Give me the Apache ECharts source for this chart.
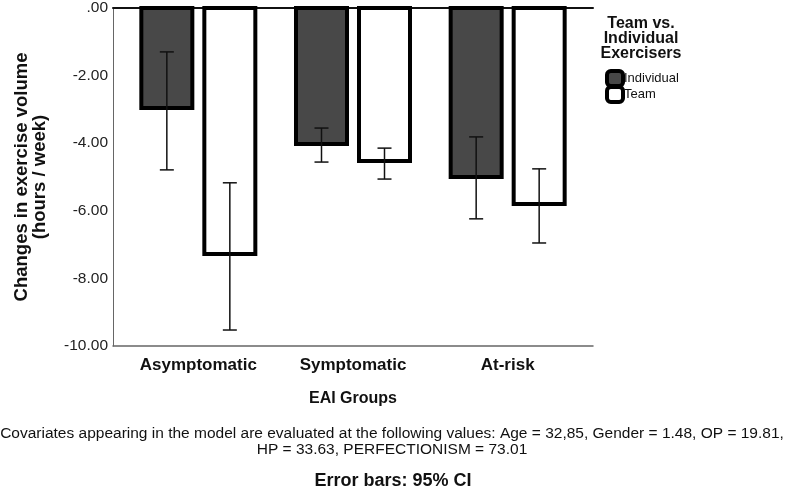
<!DOCTYPE html>
<html>
<head>
<meta charset="utf-8">
<script src="https://cdn.jsdelivr.net/npm/echarts@6/dist/echarts.min.js"></script>
<style>
  html, body { margin: 0; padding: 0; background: #fff; }
  #chart { width: 787px; height: 492px; }
</style>
</head>
<body>
<div id="chart"></div>
<script>
// 数据
var categories = ["Asymptomatic", "Symptomatic", "At-risk"];
var individualMeans = [-3.06, -4.12, -5.09];
var teamMeans = [-7.35, -4.62, -5.88];
var individualLow = [-4.82, -4.59, -6.26];
var individualHigh = [-1.35, -3.59, -3.85];
var teamLow = [-9.53, -5.09, -6.97];
var teamHigh = [-5.2, -4.18, -4.79];
var yTicks = [0, -2, -4, -6, -8, -10];

var FONT = "Liberation Sans, Arial, sans-serif";
var BAR_W = 55;
var BAR_GAP = 8; // 两根柱子之间的间距

// 误差线
function errorSeries(name, low, high, dir) {
  var data = categories.map(function (c, i) {
    return [i, low[i], high[i]];
  });
  return {
    name: name + " CI",
    type: "custom",
    xAxisIndex: 0,
    yAxisIndex: 0,
    z: 10,
    data: data,
    encode: { x: 0, y: [1, 2] },
    renderItem: function (params, api) {
      var lo = api.coord([api.value(0), api.value(1)]);
      var hi = api.coord([api.value(0), api.value(2)]);
      var x = lo[0] + dir * (BAR_W + BAR_GAP) / 2;
      var cap = 7;
      var style = { stroke: "#111", lineWidth: 1.5 };
      return {
        type: "group",
        children: [
          { type: "line", shape: { x1: x, y1: lo[1], x2: x, y2: hi[1] }, style: style },
          { type: "line", shape: { x1: x - cap, y1: lo[1], x2: x + cap, y2: lo[1] }, style: style },
          { type: "line", shape: { x1: x - cap, y1: hi[1], x2: x + cap, y2: hi[1] }, style: style }
        ]
      };
    }
  };
}

var chart = echarts.init(document.getElementById("chart"));
var option = {
  animation: false,
  textStyle: { fontFamily: FONT },
  // grid 0: 柱子, grid 1: 外框和刻度
  grid: [
    { left: 121, right: 202, top: 6, bottom: 146 },
    { left: 113, right: 194, top: 6, bottom: 146 }
  ],
  title: {
    text: "Team vs.\nIndividual\nExercisers",
    left: 641,
    top: 16,
    padding: 0,
    textAlign: "center",
    textStyle: { fontFamily: FONT, fontSize: 16, fontWeight: "bold", color: "#111", lineHeight: 15 }
  },
  legend: {
    orient: "vertical",
    left: 605,
    top: 69,
    padding: 0,
    itemWidth: 16,
    itemHeight: 15,
    itemGap: -3,
    icon: "roundRect",
    itemStyle: { borderWidth: 4, borderColor: "#000" },
    textStyle: { fontFamily: FONT, fontSize: 13, color: "#111", lineHeight: 15, padding: [0, 0, 0, -4] },
    data: ["Individual", "Team"]
  },
  xAxis: [
    {
      type: "category",
      gridIndex: 0,
      data: categories,
      position: "bottom",
      axisLine: { show: false },
      axisTick: { show: false },
      axisLabel: { fontFamily: FONT, fontSize: 17, fontWeight: "bold", color: "#111", margin: 11 },
      name: "EAI Groups",
      nameLocation: "middle",
      nameGap: 45,
      nameTextStyle: { fontFamily: FONT, fontSize: 16, fontWeight: "bold", color: "#111" }
    },
    {
      type: "category",
      gridIndex: 1,
      data: categories,
      position: "bottom",
      axisLine: { onZero: false, lineStyle: { color: "#666", width: 1.5 } },
      axisTick: { show: false },
      axisLabel: { show: false }
    },
    {
      type: "category",
      gridIndex: 1,
      data: categories,
      position: "top",
      axisLine: { onZero: false, lineStyle: { color: "#111", width: 2 } },
      axisTick: { show: false },
      axisLabel: { show: false }
    }
  ],
  yAxis: [
    {
      type: "value",
      gridIndex: 0,
      min: -10,
      max: 0,
      interval: 2,
      show: false
    },
    {
      type: "value",
      gridIndex: 1,
      min: -10,
      max: 0,
      interval: 2,
      axisLine: { show: true, lineStyle: { color: "#666", width: 1 } },
      axisTick: { show: false },
      splitLine: { show: false },
      axisLabel: {
        fontFamily: FONT,
        fontSize: 15.5,
        color: "#222",
        margin: 5,
        formatter: function (v) {
          return yTicks.indexOf(v) === 0 ? ".00" : v.toFixed(2);
        }
      },
      name: "Changes in exercise volume\n(hours / week)",
      nameLocation: "middle",
      nameGap: 64,
      nameTextStyle: { fontFamily: FONT, fontSize: 18.5, fontWeight: "bold", color: "#111", lineHeight: 18 }
    }
  ],
  series: [
    {
      name: "Individual",
      type: "bar",
      xAxisIndex: 0,
      yAxisIndex: 0,
      data: individualMeans,
      barWidth: BAR_W,
      barGap: (BAR_GAP / BAR_W * 100) + "%",
      itemStyle: { color: "#484848", borderColor: "#000", borderWidth: 4 }
    },
    {
      name: "Team",
      type: "bar",
      xAxisIndex: 0,
      yAxisIndex: 0,
      data: teamMeans,
      barWidth: BAR_W,
      itemStyle: { color: "#fff", borderColor: "#000", borderWidth: 4 }
    },
    errorSeries("Individual", individualLow, individualHigh, -1),
    errorSeries("Team", teamLow, teamHigh, 1)
  ],
  graphic: [
    {
      type: "text",
      x: 392,
      y: 426,
      style: {
        text: "Covariates appearing in the model are evaluated at the following values: Age = 32,85, Gender = 1.48, OP = 19.81,\nHP = 33.63, PERFECTIONISM = 73.01",
        align: "center",
        font: "15.5px " + FONT,
        fill: "#111",
        lineHeight: 16
      }
    },
    {
      type: "text",
      x: 393,
      y: 472,
      style: {
        text: "Error bars: 95% CI",
        align: "center",
        font: "bold 18px " + FONT,
        fill: "#111"
      }
    }
  ]
};
chart.setOption(option);
</script>
</body>
</html>
